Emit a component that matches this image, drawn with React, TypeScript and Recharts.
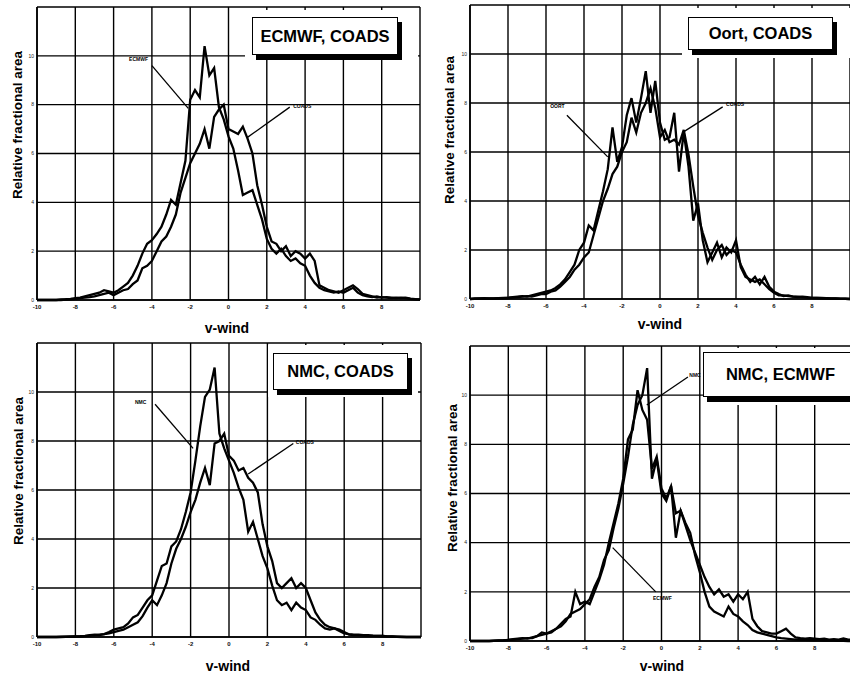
import { LineChart, Line, XAxis, YAxis, CartesianGrid, ReferenceLine, ReferenceDot } from "recharts";

// v-wind bins (0.25 steps)
const vwind = [
  -10, -9.75, -9.5, -9.25, -9, -8.75, -8.5, -8.25, -8, -7.75, -7.5, -7.25, -7, -6.75, -6.5, -6.25,
  -6, -5.75, -5.5, -5.25, -5, -4.75, -4.5, -4.25, -4, -3.75, -3.5, -3.25, -3, -2.75, -2.5, -2.25,
  -2, -1.75, -1.5, -1.25, -1, -0.75, -0.5, -0.25, 0, 0.25, 0.5, 0.75, 1, 1.25, 1.5, 1.75,
  2, 2.25, 2.5, 2.75, 3, 3.25, 3.5, 3.75, 4, 4.25, 4.5, 4.75, 5, 5.25, 5.5, 5.75,
  6, 6.25, 6.5, 6.75, 7, 7.25, 7.5, 7.75, 8, 8.25, 8.5, 8.75, 9, 9.25, 9.5, 9.75, 10,
];

// top left: ECMWF vs COADS
const ecmwf1 = [
  0, 0, 0, 0, 0, 0.02, 0.03, 0.05, 0.08, 0.1, 0.15, 0.2, 0.25, 0.3, 0.4, 0.35,
  0.3, 0.4, 0.55, 0.7, 1.0, 1.4, 1.9, 2.3, 2.45, 2.7, 3.0, 3.5, 4.1, 3.9, 4.8, 5.7,
  8.2, 8.6, 8.3, 10.4, 9.2, 9.5, 7.9, 7.4, 6.7, 6.2, 5.3, 4.3, 4.4, 4.5, 3.9, 3.3,
  2.5, 2.1, 1.9, 2.1, 1.8, 1.6, 1.7, 1.5, 1.4, 1.0, 0.7, 0.5, 0.4, 0.35, 0.3, 0.35,
  0.3, 0.4, 0.5, 0.3, 0.2, 0.15, 0.12, 0.15, 0.1, 0.12, 0.1, 0.08, 0.1, 0.08, 0.05, 0.03, 0.02,
];
const coads1 = [
  0, 0, 0, 0, 0, 0, 0.02, 0.03, 0.05, 0.08, 0.1, 0.12, 0.15, 0.2, 0.25, 0.3,
  0.2, 0.3, 0.4, 0.45, 0.65, 0.8, 1.3, 1.4, 1.6, 2.0, 2.4, 2.6, 3.0, 3.5, 4.4, 5.0,
  5.6, 6.0, 6.4, 7.0, 6.2, 7.5, 7.8, 8.0, 7.0, 6.9, 6.8, 7.1, 6.6, 6.0, 4.7, 3.9,
  3.0, 2.4, 2.3, 2.0, 2.2, 1.8, 2.0, 1.9, 1.7, 1.9, 1.6, 0.6, 0.5, 0.4, 0.35, 0.3,
  0.4, 0.5, 0.6, 0.45, 0.25, 0.2, 0.15, 0.1, 0.12, 0.1, 0.08, 0.1, 0.08, 0.1, 0.06, 0.04, 0.02,
];

// top right: Oort vs COADS
const oort2 = [
  0, 0.02, 0.02, 0.03, 0.02, 0.02, 0.03, 0.04, 0.05, 0.08, 0.1, 0.12, 0.1, 0.15, 0.2, 0.25,
  0.3, 0.35, 0.45, 0.6, 0.8, 1.1, 1.4, 2.0, 2.3, 3.0, 2.8, 3.6, 4.4, 5.3, 7.0, 5.6,
  6.2, 7.5, 8.2, 7.2, 8.2, 9.3, 7.6, 8.9, 7.2, 6.5, 6.6, 7.6, 5.2, 6.8, 5.4, 3.2,
  3.9, 2.4, 1.5, 1.9, 2.3, 1.7, 2.1, 1.9, 2.4, 1.3, 0.9, 0.8, 0.7, 0.8, 0.6, 0.4,
  0.25, 0.15, 0.15, 0.12, 0.1, 0.1, 0.08, 0.06, 0.05, 0.04, 0.03, 0.03, 0.02, 0.02, 0.01, 0.01, 0,
];
const coads2 = [
  0, 0.01, 0.02, 0.02, 0.02, 0.02, 0.03, 0.03, 0.04, 0.06, 0.08, 0.1, 0.12, 0.1, 0.15, 0.2,
  0.2, 0.3, 0.35, 0.5, 0.7, 0.9, 1.2, 1.4, 1.7, 1.9, 2.6, 3.3, 4.0, 4.5, 5.1, 5.4,
  6.0, 6.4, 7.4, 6.8, 7.6, 8.0, 8.6, 7.8, 6.6, 6.9, 6.4, 6.5, 6.3, 6.9, 5.9, 4.6,
  3.4, 2.7, 2.1, 1.6, 2.0, 2.2, 1.8, 2.0, 1.9, 1.4, 1.0, 0.7, 0.9, 0.6, 0.9, 0.5,
  0.3, 0.2, 0.12, 0.15, 0.1, 0.08, 0.1, 0.08, 0.05, 0.05, 0.04, 0.03, 0.02, 0.02, 0.01, 0.01, 0,
];

// bottom left: NMC vs COADS
const nmc3 = [
  0, 0, 0, 0, 0, 0.01, 0.01, 0.02, 0.02, 0.03, 0.05, 0.08, 0.1, 0.08, 0.12, 0.2,
  0.3, 0.35, 0.4, 0.55, 0.8, 0.9, 1.2, 1.5, 1.7, 2.3, 2.9, 3.0, 3.7, 3.9, 4.4, 5.1,
  5.9, 7.2, 8.6, 9.8, 10.1, 11.0, 8.3, 7.7, 7.2, 6.7, 6.1, 5.6, 4.3, 4.7, 4.0, 3.3,
  2.8, 2.1, 1.5, 1.3, 1.4, 1.1, 1.4, 1.2, 1.1, 0.8, 0.7, 0.5, 0.35, 0.3, 0.35, 0.3,
  0.2, 0.1, 0.08, 0.08, 0.06, 0.05, 0.05, 0.04, 0.04, 0.02, 0.02, 0.01, 0.01, 0, 0, 0, 0,
];
const coads3 = [
  0, 0, 0, 0, 0, 0, 0.01, 0.01, 0.02, 0.02, 0.04, 0.06, 0.08, 0.1, 0.12, 0.15,
  0.2, 0.25, 0.3, 0.4, 0.5, 0.6, 0.85, 1.2, 1.5, 1.3, 1.7, 2.2, 3.0, 3.6, 4.0, 4.5,
  5.1, 5.6, 6.3, 6.9, 6.2, 7.9, 8.0, 8.3, 7.4, 7.2, 6.8, 6.9, 6.5, 6.3, 5.9, 4.6,
  3.7, 3.1, 2.2, 2.0, 2.2, 2.4, 2.0, 2.2, 2.0, 1.5, 1.0, 0.7, 0.5, 0.4, 0.35, 0.25,
  0.15, 0.12, 0.1, 0.1, 0.08, 0.08, 0.06, 0.05, 0.04, 0.02, 0.02, 0.01, 0, 0, 0, 0, 0,
];

// bottom right: NMC vs ECMWF
const ecmwf4 = [
  0, 0, 0, 0, 0, 0.01, 0.02, 0.03, 0.05, 0.08, 0.1, 0.12, 0.1, 0.15, 0.2, 0.35,
  0.3, 0.4, 0.5, 0.7, 0.9, 1.0, 2.0, 1.5, 1.6, 1.5, 2.0, 2.5, 3.1, 4.0, 4.8, 5.6,
  6.6, 8.2, 8.6, 10.2, 9.4, 9.0, 7.0, 7.5, 6.2, 5.8, 6.3, 5.2, 5.3, 4.7, 4.1, 3.6,
  3.1, 2.6, 2.2, 1.9, 2.1, 1.8, 1.9, 1.6, 1.9, 1.7, 2.0, 0.9, 0.6, 0.4, 0.35, 0.3,
  0.3, 0.4, 0.5, 0.3, 0.15, 0.12, 0.1, 0.12, 0.1, 0.08, 0.1, 0.06, 0.08, 0.06, 0.1, 0.06, 0.04,
];
const nmc4 = [
  0, 0, 0, 0, 0, 0.01, 0.02, 0.02, 0.04, 0.06, 0.08, 0.1, 0.12, 0.12, 0.2, 0.25,
  0.3, 0.35, 0.5, 0.6, 0.8, 1.1, 1.2, 1.3, 1.5, 1.7, 2.2, 2.6, 3.3, 3.7, 4.6, 5.4,
  6.4, 7.5, 8.8, 9.6, 10.0, 11.1, 6.6, 7.4, 6.0, 5.7, 6.3, 4.2, 5.3, 4.8, 4.4, 3.5,
  2.8, 2.0, 1.4, 1.2, 1.1, 1.0, 1.4, 1.1, 1.0, 0.8, 0.65, 0.45, 0.35, 0.3, 0.25, 0.2,
  0.15, 0.12, 0.1, 0.08, 0.06, 0.05, 0.05, 0.04, 0.03, 0.03, 0.02, 0.02, 0.02, 0.01, 0.01, 0, 0,
];

const xTicks = [-10, -8, -6, -4, -2, 0, 2, 4, 6, 8, 10];
const yTicks = [0, 2, 4, 6, 8, 10, 12];

const FONT = '"Liberation Sans", Arial, Helvetica, sans-serif';

type Pt = [number, number];
interface Leader {
  from: Pt;
  to: Pt;
  text: string;
  at: Pt;
}
interface Rect {
  x: number;
  y: number;
  w: number;
  h: number;
}
interface PanelProps {
  left: number;
  top: number;
  width: number;
  height: number;
  marginTop: number;
  marginRight: number;
  yAxisWidth: number;
  xAxisHeight: number;
  a: number[];
  b: number[];
  title: string;
  box: Rect;
  blank: Rect;
  yLabel: Pt;
  xLabel: Pt;
  leaders: Leader[];
}

function Panel(p: PanelProps) {
  const data = vwind.map((x, i) => ({ x, a: p.a[i], b: p.b[i] }));
  return (
    <div style={{ position: "absolute", left: p.left, top: p.top, width: p.width, height: p.height }}>
      <LineChart
        width={p.width}
        height={p.height}
        data={data}
        margin={{ top: p.marginTop, right: p.marginRight, left: 0, bottom: 0 }}>
        <CartesianGrid stroke="#000" strokeWidth={1.4} />
        <XAxis
          dataKey="x"
          type="number"
          domain={[-10, 10]}
          ticks={xTicks}
          interval={0}
          height={p.xAxisHeight}
          tickFormatter={(v: number) => (v === 10 ? "" : String(v))}
          tick={{ fontSize: 6, fill: "#111", fontFamily: FONT, fontWeight: "bold" }}
          tickLine={false}
          tickSize={2}
          tickMargin={3}
          axisLine={{ stroke: "#000", strokeWidth: 1.6 }}
        />
        <YAxis
          type="number"
          domain={[0, 12]}
          ticks={yTicks}
          interval={0}
          width={p.yAxisWidth}
          tickFormatter={(v: number) => (v === 12 ? "" : String(v))}
          tick={{ fontSize: 5, fill: "#222", fontFamily: FONT }}
          tickLine={false}
          tickSize={2}
          tickMargin={1}
          axisLine={{ stroke: "#000", strokeWidth: 1.6 }}
        />
        <Line type="linear" dataKey="a" stroke="#000" strokeWidth={2.3} dot={false} isAnimationActive={false} />
        <Line type="linear" dataKey="b" stroke="#000" strokeWidth={2.3} dot={false} isAnimationActive={false} />
        {p.leaders.map((l, i) => (
          <ReferenceLine
            key={`l-${i}`}
            segment={[
              { x: l.from[0], y: l.from[1] },
              { x: l.to[0], y: l.to[1] },
            ]}
            stroke="#000"
            strokeWidth={1.3}
            ifOverflow="visible"
          />
        ))}
        {p.leaders.map((l, i) => (
          <ReferenceDot
            key={`d-${i}`}
            x={l.at[0]}
            y={l.at[1]}
            r={0}
            fill="none"
            stroke="none"
            ifOverflow="visible"
            label={{ value: l.text, position: "center", fontSize: 5, fill: "#000", fontFamily: FONT, fontWeight: "bold" }}
          />
        ))}
      </LineChart>
      <div
        style={{
          position: "absolute",
          left: p.blank.x - p.left,
          top: p.blank.y - p.top,
          width: p.blank.w,
          height: p.blank.h,
          background: "#fff",
        }}
      />
      <div
        style={{
          position: "absolute",
          left: p.box.x - p.left,
          top: p.box.y - p.top,
          width: p.box.w,
          height: p.box.h,
          boxSizing: "border-box",
          border: "1.5px solid #000",
          background: "#fff",
          boxShadow: "4px 5px 0 #000",
          display: "flex",
          alignItems: "center",
          justifyContent: "center",
          fontFamily: FONT,
          fontWeight: "bold",
          fontSize: 16.5,
          color: "#000",
        }}>
        {p.title}
      </div>
      <svg
        width={p.width}
        height={p.height}
        style={{ position: "absolute", left: 0, top: 0, pointerEvents: "none", overflow: "visible" }}>
        <text
          x={p.yLabel[0] - p.left}
          y={p.yLabel[1] - p.top}
          transform={`rotate(-90 ${p.yLabel[0] - p.left} ${p.yLabel[1] - p.top})`}
          textAnchor="middle"
          dominantBaseline="central"
          fontFamily={FONT}
          fontWeight="bold"
          fontSize={13.5}
          fill="#000">
          Relative fractional area
        </text>
        <text
          x={p.xLabel[0] - p.left}
          y={p.xLabel[1] - p.top}
          textAnchor="middle"
          dominantBaseline="central"
          fontFamily={FONT}
          fontWeight="bold"
          fontSize={14}
          fill="#000">
          v-wind
        </text>
      </svg>
    </div>
  );
}

export default function App() {
  return (
    <div
      style={{
        position: "absolute",
        left: 0,
        top: 0,
        width: 850,
        height: 675,
        background: "#fff",
        overflow: "hidden",
      }}>
      <Panel
        left={0}
        top={0}
        width={425}
        height={335}
        marginTop={7}
        marginRight={5}
        yAxisWidth={37}
        xAxisHeight={35}
        a={ecmwf1}
        b={coads1}
        title="ECMWF, COADS"
        box={{ x: 252, y: 17, w: 146, h: 38 }}
        blank={{ x: 245, y: 10, w: 173, h: 50 }}
        yLabel={[17, 125]}
        xLabel={[227, 328]}
        leaders={[
          { from: [-4.0, 9.6], to: [-2.1, 7.85], text: "ECMWF", at: [-4.7, 9.85] },
          { from: [3.2, 7.9], to: [0.97, 6.65], text: "COADS", at: [3.85, 7.95] },
        ]}
      />
      <Panel
        left={425}
        top={0}
        width={430}
        height={335}
        marginTop={5}
        marginRight={5}
        yAxisWidth={45}
        xAxisHeight={36}
        a={oort2}
        b={coads2}
        title="Oort, COADS"
        box={{ x: 688, y: 17, w: 145, h: 33 }}
        blank={{ x: 682, y: 8, w: 170, h: 50 }}
        yLabel={[449, 130]}
        xLabel={[660, 324]}
        leaders={[
          { from: [-4.9, 7.5], to: [-2.75, 5.8], text: "OORT", at: [-5.4, 7.85] },
          { from: [3.3, 7.84], to: [1.2, 6.8], text: "COADS", at: [3.95, 7.96] },
        ]}
      />
      <Panel
        left={0}
        top={335}
        width={425}
        height={340}
        marginTop={8}
        marginRight={4}
        yAxisWidth={37}
        xAxisHeight={38}
        a={nmc3}
        b={coads3}
        title="NMC, COADS"
        box={{ x: 273, y: 353, w: 135, h: 37 }}
        blank={{ x: 268, y: 345, w: 150, h: 52 }}
        yLabel={[18, 471]}
        xLabel={[228, 666]}
        leaders={[
          { from: [-3.85, 9.5], to: [-1.87, 7.7], text: "NMC", at: [-4.6, 9.6] },
          { from: [3.35, 7.9], to: [1.0, 6.65], text: "COADS", at: [3.95, 7.96] },
        ]}
      />
      <Panel
        left={425}
        top={335}
        width={430}
        height={340}
        marginTop={11}
        marginRight={2}
        yAxisWidth={45}
        xAxisHeight={34}
        a={ecmwf4}
        b={nmc4}
        title="NMC, ECMWF"
        box={{ x: 703, y: 352, w: 155, h: 45 }}
        blank={{ x: 703, y: 348, w: 150, h: 57 }}
        yLabel={[452, 478]}
        xLabel={[662, 666]}
        leaders={[
          { from: [1.38, 10.74], to: [-0.77, 9.6], text: "NMC", at: [1.75, 10.8] },
          { from: [-0.3, 2.0], to: [-2.55, 3.8], text: "ECMWF", at: [0.05, 1.75] },
        ]}
      />
    </div>
  );
}
